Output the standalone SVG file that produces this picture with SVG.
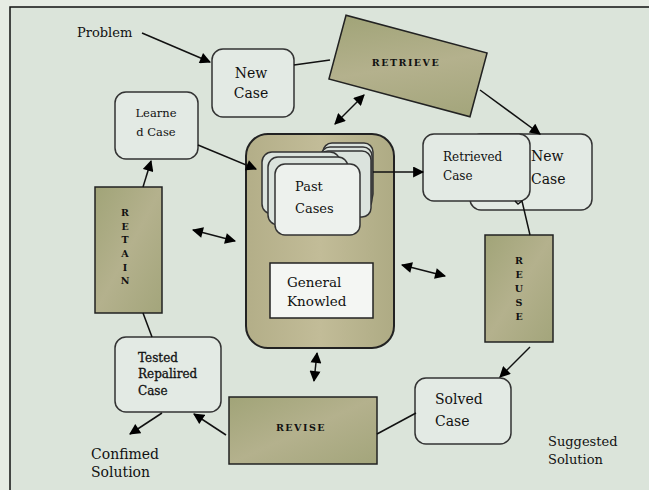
<svg xmlns="http://www.w3.org/2000/svg" width="649" height="490" viewBox="0 0 649 490">
<defs>
<marker id="ah" viewBox="0 0 10 10" refX="9" refY="5" markerWidth="12" markerHeight="11" orient="auto-start-reverse" markerUnits="userSpaceOnUse">
<path d="M0,0 L10,5 L0,10 z" fill="#000"/>
</marker>
<linearGradient id="olive" x1="0" y1="0" x2="1" y2="1">
<stop offset="0" stop-color="#a1a478"/>
<stop offset="0.5" stop-color="#b4b18d"/>
<stop offset="1" stop-color="#a3a57b"/>
</linearGradient>
<linearGradient id="tan" x1="0" y1="0" x2="1" y2="0">
<stop offset="0" stop-color="#b3ae88"/>
<stop offset="0.5" stop-color="#c2bc98"/>
<stop offset="1" stop-color="#aeab84"/>
</linearGradient>
</defs>
<style>
.t{font-family:"DejaVu Serif","Liberation Serif",serif;fill:#111;}
.box{fill:#e3eae4;stroke:#333;stroke-width:1.5;}
.card{fill:#dbe3dd;stroke:#333;stroke-width:1.5;}
.proc{fill:url(#olive);stroke:#222;stroke-width:1.5;}
.c{stroke:#111;stroke-width:1.5;fill:none;}
.a{marker-end:url(#ah);}
.d{marker-start:url(#ah);marker-end:url(#ah);}
.lab{font-size:9.5px;font-weight:bold;letter-spacing:1.5px;}
.vl{font-size:9.5px;font-weight:bold;}
</style>
<rect x="0" y="0" width="649" height="490" fill="#e6ece4"/>
<rect x="10" y="7" width="639" height="483" fill="#dbe4da"/>
<path d="M10,490 L10,7 L649,7" fill="none" stroke="#111" stroke-width="1.5"/>

<text class="t" x="77" y="37" font-size="13">Problem</text>

<g id="new-case">
<rect class="box" x="212" y="49" width="82" height="68" rx="11"/>
<text class="t" x="251" y="78" font-size="14" text-anchor="middle">New</text>
<text class="t" x="251" y="98" font-size="14" text-anchor="middle">Case</text>
</g>

<g id="retrieve">
<rect class="proc" x="-73" y="-33" width="146" height="66" transform="translate(408,66) rotate(15)"/>
<text class="t lab" x="406" y="66" text-anchor="middle">RETRIEVE</text>
</g>

<g id="learned-case">
<rect class="box" x="115" y="92" width="83" height="67" rx="11"/>
<text class="t" x="156" y="117" font-size="11.5" text-anchor="middle">Learne</text>
<text class="t" x="156" y="136" font-size="11.5" text-anchor="middle">d Case</text>
</g>

<g id="knowledge-base">
<rect x="246" y="134" width="148" height="214" rx="22" fill="url(#tan)" stroke="#222" stroke-width="2"/>
<rect class="card" x="323" y="143" width="50" height="60" rx="9"/>
<rect class="card" x="321" y="147" width="51" height="62" rx="9"/>
<rect class="card" x="319" y="151" width="52" height="66" rx="9"/>
<rect class="card" x="262" y="152" width="78" height="62" rx="10"/>
<rect class="card" x="268" y="157" width="80" height="68" rx="10"/>
<rect x="275" y="164" width="85" height="71" rx="10" fill="#edf1ed" stroke="#333" stroke-width="1.5"/>
<text class="t" x="295" y="191" font-size="13">Past</text>
<text class="t" x="295" y="213" font-size="13">Cases</text>
<rect x="270" y="263" width="103" height="55" fill="#f4f6f3" stroke="#222" stroke-width="1.5"/>
<text class="t" x="287" y="287" font-size="13.5">General</text>
<text class="t" x="287" y="306" font-size="13.5">Knowled</text>
</g>

<g id="new-case-2">
<rect class="box" x="470" y="134" width="122" height="76" rx="11"/>
<text class="t" x="531" y="161" font-size="14">New</text>
<text class="t" x="531" y="184" font-size="14">Case</text>
</g>

<g id="retrieved-case">
<rect class="box" x="423" y="134" width="107" height="67" rx="11"/>
<text class="t" x="443" y="161" font-size="12">Retrieved</text>
<text class="t" x="443" y="180" font-size="12">Case</text>
</g>

<g id="reuse">
<rect class="proc" x="485" y="235" width="68" height="107"/>
<g class="t vl" text-anchor="middle">
<text x="519" y="264">R</text><text x="519" y="278">E</text><text x="519" y="292">U</text><text x="519" y="306">S</text><text x="519" y="320">E</text>
</g>
</g>

<g id="solved-case">
<rect class="box" x="415" y="378" width="96" height="66" rx="11"/>
<text class="t" x="435" y="404" font-size="14">Solved</text>
<text class="t" x="435" y="426" font-size="14">Case</text>
</g>

<text class="t" x="548" y="446" font-size="13">Suggested</text>
<text class="t" x="548" y="464" font-size="13">Solution</text>

<g id="revise">
<rect class="proc" x="229" y="397" width="148" height="67"/>
<text class="t lab" x="301" y="431" text-anchor="middle">REVISE</text>
</g>

<g id="tested-case">
<rect class="box" x="115" y="337" width="106" height="75" rx="11"/>
<text class="t" x="138" y="362" font-size="12" stroke="#111" stroke-width="0.3">Tested</text>
<text class="t" x="138" y="378" font-size="12" stroke="#111" stroke-width="0.3">Repalired</text>
<text class="t" x="138" y="395" font-size="12" stroke="#111" stroke-width="0.3">Case</text>
</g>

<text class="t" x="91" y="459" font-size="14">Confimed</text>
<text class="t" x="91" y="477" font-size="14">Solution</text>

<g id="retain">
<rect class="proc" x="95" y="187" width="67" height="126"/>
<g class="t vl" text-anchor="middle">
<text x="125" y="216">R</text><text x="125" y="230">E</text><text x="125" y="243">T</text><text x="125" y="257">A</text><text x="125" y="271">I</text><text x="125" y="284">N</text>
</g>
</g>

<g id="connectors">
<line class="c a" x1="142" y1="33" x2="210" y2="62"/>
<line class="c" x1="294" y1="65" x2="330" y2="60"/>
<line class="c d" x1="335" y1="124" x2="364" y2="95"/>
<line class="c a" x1="480" y1="90" x2="540" y2="134"/>
<line class="c a" x1="373" y1="172" x2="423" y2="172"/>
<path class="c" d="M515,201 L518,204 L522,201 L530,235"/>
<line class="c a" x1="530" y1="347" x2="500" y2="377"/>
<line class="c" x1="416" y1="413" x2="377" y2="434"/>
<line class="c a" x1="226" y1="435" x2="194" y2="414"/>
<line class="c a" x1="162" y1="413" x2="130" y2="434"/>
<line class="c" x1="152" y1="337" x2="143" y2="313"/>
<line class="c a" x1="143" y1="187" x2="151" y2="161"/>
<line class="c a" x1="198" y1="145" x2="256" y2="169"/>
<line class="c d" x1="193" y1="230" x2="235" y2="241"/>
<line class="c d" x1="402" y1="265" x2="445" y2="276"/>
<line class="c d" x1="317" y1="353" x2="314" y2="381"/>
</g>
</svg>
